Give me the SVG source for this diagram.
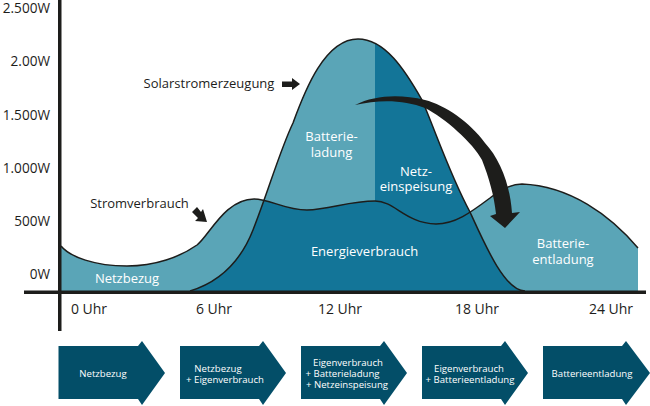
<svg xmlns="http://www.w3.org/2000/svg" width="650" height="406" viewBox="0 0 650 406">
<style>
text{font-family:"Open Sans","Liberation Sans",sans-serif}
.ax{font-size:14px;fill:#1d1d1b}
.y{text-anchor:end;font-size:13.600px}
.m{text-anchor:middle}
.t{font-size:13px}
.w{font-size:13px;fill:#fff;text-anchor:middle}
.s{font-size:9.600px;fill:#fff;text-anchor:middle}
.c{fill:none;stroke:#1d1d1b;stroke-width:1.500}
.l{fill:#034e68}
.k{fill:#1d1d1b}
</style>
<defs>
<path id="cons" d="M61,246C70,257 95,266 127,266C155,266 180,257 197,245C209,236 225,199 254,199C270,199 285,210 307,210C330,209 350,201 375,201C395,201 405,223 436,224C455,224 470,213 490,198C500,190 510,184 522,184C570,186 610,215 638,248L638,291L61,291Z"/>
<path id="sol" d="M190,291C213,284 238,268 253,230C268,192 280,150 293,123C305,90 325,39 358,39C385,39 405,70 422,100C435,130 450,175 470,212C485,245 505,291 525,291Z"/>
<clipPath id="cs"><use href="#sol"/></clipPath>
</defs>
<g id="chart">
<use href="#cons" fill="#5aa5b7"/>
<use href="#sol" fill="#5aa5b7"/>
<use href="#cons" fill="#137598" clip-path="url(#cs)"/>
<rect x="375" y="30" width="160" height="262" fill="#137598" clip-path="url(#cs)"/>
<path class="c" d="M61,246C70,257 95,266 127,266C155,266 180,257 197,245C209,236 225,199 254,199C270,199 285,210 307,210C330,209 350,201 375,201C395,201 405,223 436,224C455,224 470,213 490,198C500,190 510,184 522,184C570,186 610,215 638,248"/>
<path class="c" d="M190,291C213,284 238,268 253,230C268,192 280,150 293,123C305,90 325,39 358,39C385,39 405,70 422,100C435,130 450,175 470,212C485,245 505,291 525,291"/>
</g>
<g id="connectors">
<path class="k" d="M355,105C375,95 400,94 425,100C445,105 470,122 485,143C499,158 510,183 512,213L520,212L505,228L490,216L496,214C494,195 489,178 482,160C473,143 445,118 425,108C405,100 380,99 355,105Z"/>
<path class="k" d="M282,81.500H292V78L300,84L292,90V87H282Z"/>
<path class="k" d="M192,212L197,207L201,212L203,209L207,222L195,221L198,218Z"/>
</g>
<g id="axes">
<rect x="58" y="0" width="3.500" height="331" fill="#1d1d1b"/>
<rect x="24" y="290.500" width="622" height="3.500" fill="#1d1d1b"/>
</g>
<g id="labels">
<text class="ax y" x="50" y="13">2.500W</text>
<text class="ax y" x="50" y="66">2.00W</text>
<text class="ax y" x="50" y="120">1.500W</text>
<text class="ax y" x="50" y="173">1.000W</text>
<text class="ax y" x="50" y="226">500W</text>
<text class="ax y" x="50" y="279">0W</text>
<text class="ax m" x="89" y="314">0 Uhr</text>
<text class="ax m" x="214" y="314">6 Uhr</text>
<text class="ax m" x="340" y="314">12 Uhr</text>
<text class="ax m" x="477" y="314">18 Uhr</text>
<text class="ax m" x="611" y="314">24 Uhr</text>
<text class="ax m t" x="209" y="88">Solarstromerzeugung</text>
<text class="ax m t" x="139.500" y="208">Stromverbrauch</text>
<text class="w" x="127" y="283">Netzbezug</text>
<text class="w" x="331.500" y="141">Batterie-</text>
<text class="w" x="331.500" y="157">ladung</text>
<text class="w" x="416" y="176">Netz-</text>
<text class="w" x="416" y="191">einspeisung</text>
<text class="w" x="364.500" y="256">Energieverbrauch</text>
<text class="w" x="563" y="248">Batterie-</text>
<text class="w" x="563" y="264">entladung</text>
</g>
<g id="step1"><path class="l" d="M58.500,346H138L142,341L165,373L142,405L138,399H58.500Z"/><text class="s" x="103" y="377">Netzbezug</text></g>
<g id="step2"><path class="l" d="M180,346H259L263,341L286,373L263,405L259,399H180Z"/><text class="s" x="218" y="372">Netzbezug</text><text class="s" x="225" y="383">+ Eigenverbrauch</text></g>
<g id="step3"><path class="l" d="M301,346H380L384,341L407,373L384,405L380,399H301Z"/><text class="s" x="348" y="366">Eigenverbrauch</text><text class="s" x="342.500" y="377">+ Batterieladung</text><text class="s" x="347" y="388">+ Netzeinspeisung</text></g>
<g id="step4"><path class="l" d="M422,346H501L505,341L528,373L505,405L501,399H422Z"/><text class="s" x="469" y="372">Eigenverbrauch</text><text class="s" x="470" y="383">+ Batterieentladung</text></g>
<g id="step5"><path class="l" d="M543,346H622L626,341L650,373L626,405L622,399H543Z"/><text class="s" x="592" y="377">Batterieentladung</text></g>
</svg>
